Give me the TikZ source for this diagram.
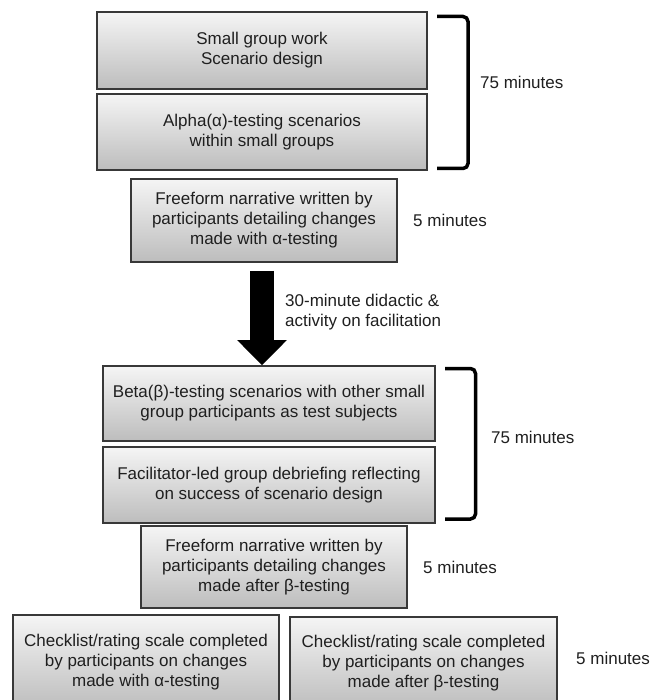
\documentclass[tikz,border=0pt]{standalone}
\usepackage{fontspec}
\setmainfont{Liberation Sans}
\usetikzlibrary{arrows.meta}
\begin{document}
\begin{tikzpicture}[x=1pt,y=-1pt,
  box/.style={draw=black!78, line width=1.6pt, top color=black!4, bottom color=black!26,
    align=center, font=\fontsize{17}{20}\selectfont, text=black!88, inner sep=0pt},
  lbl/.style={anchor=west, font=\fontsize{17}{20}\selectfont, text=black!88, inner sep=0pt, align=left},
  bracket/.style={draw=black, line width=3.5pt, rounded corners=5pt},
  bigarrow/.style={-{Triangle[width=48pt,length=25pt]}, line width=24pt, draw=black}]
\useasboundingbox (0,0) rectangle (655,700);
\clip (0,0) rectangle (655,700);

\node[box, minimum width=330pt, minimum height=77pt] (b1) at (262,50.5) {Small group work\\Scenario design};
\node[box, minimum width=330pt, minimum height=76pt] (b2) at (262,132) {Alpha(α)-testing scenarios\\within small groups};
\node[box, minimum width=266pt, minimum height=83pt] (b3) at (264,220.5) {Freeform narrative written by\\participants detailing changes\\made with α-testing};
\node[box, minimum width=332pt, minimum height=75pt] (b4) at (269,403.5) {Beta(β)-testing scenarios with other small\\group participants as test subjects};
\node[box, minimum width=332pt, minimum height=76pt] (b5) at (269,485) {Facilitator-led group debriefing reflecting\\on success of scenario design};
\node[box, minimum width=266pt, minimum height=82pt] (b6) at (274,567) {Freeform narrative written by\\participants detailing changes\\made after β-testing};
\node[box, minimum width=266pt, minimum height=94pt] (b7) at (146,662) {Checklist/rating scale completed\\by participants on changes\\made with α-testing};
\node[box, minimum width=267pt, minimum height=92pt] (b8) at (423.5,663) {Checklist/rating scale completed\\by participants on changes\\made after β-testing};

\draw[bracket] (437,16.5) -- (468,16.5) -- (468,168.5) -- (437,168.5);
\draw[bracket] (445,368.5) -- (475.5,368.5) -- (475.5,519) -- (445,519);

\node[lbl] (t1) at (480,82) {75 minutes};
\node[lbl] (t2) at (413,220) {5 minutes};
\node[lbl] (t3) at (491,437) {75 minutes};
\node[lbl] (t4) at (423,567) {5 minutes};
\node[lbl] (t5) at (576,658) {5 minutes};
\node[lbl] (ta) at (285,312.5) {30-minute didactic \&\\activity on facilitation};

\draw[bigarrow] ([xshift=-2pt,yshift=-8pt]b3.south) -- ([xshift=-2pt]b3.south |- b4.north);
\end{tikzpicture}
\end{document}
